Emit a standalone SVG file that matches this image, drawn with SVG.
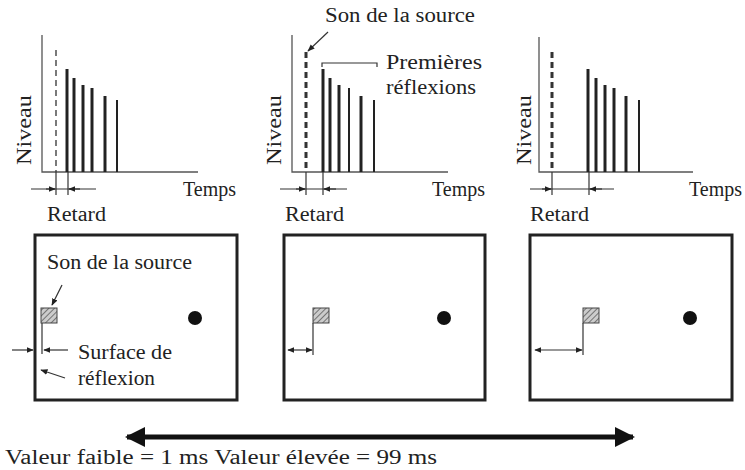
<svg xmlns="http://www.w3.org/2000/svg" width="745" height="470" viewBox="0 0 745 470">
<style>
text{font-family:"Liberation Serif","DejaVu Serif","Times New Roman",serif;font-size:20px;fill:#222}
.nv{font-size:21px}
.ax{stroke:#555;stroke-width:1.3;fill:none}
.bar{stroke:#222;stroke-width:3}
.thin{stroke:#333;stroke-width:1.2;fill:none}
.box{stroke:#222;stroke-width:3;fill:none}
.dash{stroke:#333;stroke-dasharray:6,4;fill:none}
</style>
<defs>
<marker id="ah" viewBox="0 0 10 10" refX="9" refY="5" markerWidth="6" markerHeight="6" orient="auto-start-reverse"><path d="M0,1 L10,5 L0,9 z" fill="#222"/></marker>
<marker id="big" viewBox="0 0 10 10" refX="9" refY="5" markerWidth="4" markerHeight="4" orient="auto-start-reverse"><path d="M0,0 L10,5 L0,10 z" fill="#111"/></marker>
<pattern id="hatch" width="4" height="4" patternUnits="userSpaceOnUse" patternTransform="rotate(45)"><rect width="4" height="4" fill="#ccc"/><line x1="0" y1="0" x2="0" y2="4" stroke="#555" stroke-width="1.5"/></pattern>
</defs>
<g id="chart1">
<path class="ax" d="M42,35 V172 H198"/>
<line class="dash" x1="56" y1="50" x2="56" y2="172" stroke-width="1.3"/>
<g class="bar"><line x1="67" y1="69" x2="67" y2="172"/><line x1="74" y1="78" x2="74" y2="172"/><line x1="83" y1="85" x2="83" y2="172"/><line x1="92" y1="88" x2="92" y2="172"/><line x1="105" y1="96" x2="105" y2="172"/><line x1="117" y1="100" x2="117" y2="172" stroke-width="2"/></g>
<line class="thin" x1="31" y1="189" x2="96" y2="189"/>
<line class="thin" x1="46" y1="189" x2="55" y2="189" marker-end="url(#ah)"/>
<line class="thin" x1="80" y1="189" x2="69" y2="189" marker-end="url(#ah)"/>
<line class="thin" x1="56" y1="172" x2="56" y2="195"/><line class="thin" x1="68" y1="172" x2="68" y2="195"/>
<text x="183" y="196" textLength="53" lengthAdjust="spacingAndGlyphs">Temps</text><text x="47" y="221" textLength="59" lengthAdjust="spacingAndGlyphs">Retard</text>
<text class="nv" transform="translate(31,165) rotate(-90)" textLength="70" lengthAdjust="spacingAndGlyphs">Niveau</text>
</g>
<g id="chart2">
<path class="ax" d="M292,35 V172 H448"/>
<line class="dash" x1="306" y1="52" x2="306" y2="172" stroke-width="3"/>
<g class="bar"><line x1="323" y1="69" x2="323" y2="172"/><line x1="330" y1="78" x2="330" y2="172"/><line x1="339" y1="85" x2="339" y2="172"/><line x1="349" y1="88" x2="349" y2="172" stroke-width="2"/><line x1="361" y1="96" x2="361" y2="172"/><line x1="374" y1="100" x2="374" y2="172" stroke-width="2"/></g>
<line class="thin" x1="280" y1="189" x2="347" y2="189"/>
<line class="thin" x1="296" y1="189" x2="305" y2="189" marker-end="url(#ah)"/>
<line class="thin" x1="336" y1="189" x2="324" y2="189" marker-end="url(#ah)"/>
<line class="thin" x1="306" y1="172" x2="306" y2="195"/><line class="thin" x1="323" y1="172" x2="323" y2="195"/>
<text x="432" y="196" textLength="53" lengthAdjust="spacingAndGlyphs">Temps</text><text x="285" y="221" textLength="59" lengthAdjust="spacingAndGlyphs">Retard</text>
<text class="nv" transform="translate(281,165) rotate(-90)" textLength="70" lengthAdjust="spacingAndGlyphs">Niveau</text>
<text x="325" y="22" textLength="150" lengthAdjust="spacingAndGlyphs">Son de la source</text>
<line class="thin" x1="328" y1="32" x2="308" y2="51" marker-end="url(#ah)"/>
<path class="thin" d="M322,67 V63 H377 V67"/>
<text x="386" y="69" textLength="96" lengthAdjust="spacingAndGlyphs">Premières</text><text x="386" y="94" textLength="90" lengthAdjust="spacingAndGlyphs">réflexions</text>
</g>
<g id="chart3">
<path class="ax" d="M539,37 V172 H693"/>
<line class="dash" x1="552" y1="52" x2="552" y2="172" stroke-width="3"/>
<g class="bar"><line x1="588" y1="69" x2="588" y2="172"/><line x1="596" y1="78" x2="596" y2="172"/><line x1="605" y1="85" x2="605" y2="172"/><line x1="614" y1="88" x2="614" y2="172"/><line x1="626" y1="96" x2="626" y2="172"/><line x1="639" y1="100" x2="639" y2="172" stroke-width="2"/></g>
<line class="thin" x1="530" y1="189" x2="614" y2="189"/>
<line class="thin" x1="542" y1="189" x2="551" y2="189" marker-end="url(#ah)"/>
<line class="thin" x1="602" y1="189" x2="590" y2="189" marker-end="url(#ah)"/>
<line class="thin" x1="552" y1="172" x2="552" y2="195"/><line class="thin" x1="589" y1="172" x2="589" y2="195"/>
<text x="689" y="196" textLength="53" lengthAdjust="spacingAndGlyphs">Temps</text><text x="530" y="221" textLength="59" lengthAdjust="spacingAndGlyphs">Retard</text>
<text class="nv" transform="translate(531,165) rotate(-90)" textLength="70" lengthAdjust="spacingAndGlyphs">Niveau</text>
</g>
<g id="room1">
<rect class="box" x="35" y="235" width="202" height="165"/>
<rect x="41" y="308" width="16" height="15" fill="url(#hatch)" stroke="#444"/>
<circle cx="195" cy="318" r="7" fill="#111"/>
<line class="thin" x1="42" y1="323" x2="42" y2="354"/>
<text x="47" y="269" textLength="145" lengthAdjust="spacingAndGlyphs">Son de la source</text>
<text x="78" y="359" textLength="94" lengthAdjust="spacingAndGlyphs">Surface de</text><text x="78" y="385" textLength="77" lengthAdjust="spacingAndGlyphs">réflexion</text>
</g>
<g id="room2">
<rect class="box" x="284" y="235" width="201" height="165"/>
<rect x="313" y="308" width="16" height="15" fill="url(#hatch)" stroke="#444"/>
<circle cx="444" cy="318" r="7" fill="#111"/>
<line class="thin" x1="313" y1="323" x2="313" y2="355"/>
</g>
<g id="room3">
<rect class="box" x="530" y="235" width="202" height="165"/>
<rect x="583" y="308" width="16" height="15" fill="url(#hatch)" stroke="#444"/>
<circle cx="690" cy="318" r="7" fill="#111"/>
<line class="thin" x1="583" y1="323" x2="583" y2="355"/>
</g>
<g id="connectors">
<line class="thin" x1="62" y1="285" x2="52" y2="305" marker-end="url(#ah)"/>
<line class="thin" x1="12" y1="350" x2="33" y2="350" marker-end="url(#ah)"/>
<line class="thin" x1="68" y1="350" x2="44" y2="350" marker-end="url(#ah)"/>
<line class="thin" x1="65" y1="378" x2="41" y2="370" marker-end="url(#ah)"/>
<line class="thin" x1="288" y1="350" x2="312" y2="350" marker-start="url(#ah)" marker-end="url(#ah)"/>
<line class="thin" x1="535" y1="350" x2="582" y2="350" marker-start="url(#ah)" marker-end="url(#ah)"/>
<line x1="127" y1="437" x2="633" y2="437" stroke="#111" stroke-width="5" marker-start="url(#big)" marker-end="url(#big)"/>
</g>
<text x="5" y="464" textLength="432" lengthAdjust="spacingAndGlyphs">Valeur faible = 1 ms Valeur élevée = 99 ms</text>
</svg>
